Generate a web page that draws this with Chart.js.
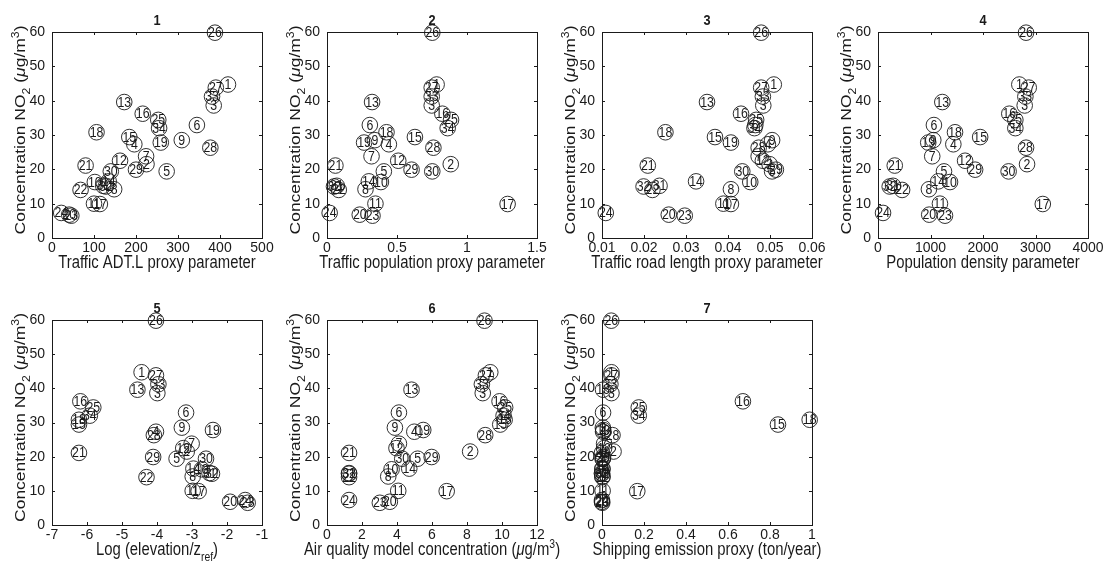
<!DOCTYPE html>
<html lang="en">
<head>
<meta charset="UTF-8">
<title>NO2 concentration vs proxy parameters</title>
<style>
  body { margin: 0; background: #fff; }
  #wrap { position: relative; width: 1107px; height: 568px; overflow: hidden; }
  #wrap canvas { position: absolute; }
</style>
<script src="https://cdn.jsdelivr.net/npm/chart.js"></script>
</head>
<body>
<div id="wrap"></div>
<script>
// station numbers and measured NO2 (ug/m3)
const stations = [1, 2, 3, 4, 5, 6, 7, 8, 9, 10, 11, 12, 13, 14, 15, 16, 17,
  18, 19, 20, 21, 22, 23, 24, 25, 26, 27, 28, 29, 30, 31, 32, 33, 34];
const no2 = [44.7, 21.5, 38.6, 27.3, 19.4, 32.9, 23.8, 14.2, 28.5, 16.3, 10.0, 22.5,
  39.6, 16.5, 29.4, 36.2, 9.9, 30.8, 27.8, 6.8, 21.1, 14.0, 6.5, 7.3, 34.4, 59.8,
  43.8, 26.3, 19.9, 19.4, 15.2, 15.0, 41.2, 32.0];

// proxy parameters, same station order
const adtL = [419, 225, 385, 196, 273, 345, 224, 148, 309, 102, 100, 162, 172, 135,
  184, 216, 114, 106, 259, 41, 80, 68, 46, 22, 253, 388, 390, 377, 200, 140, 122,
  128, 381, 255];
const trafficPop = [0.783, 0.884, 0.748, 0.442, 0.406, 0.306, 0.318, 0.275, 0.342,
  0.385, 0.346, 0.509, 0.322, 0.299, 0.628, 0.824, 1.29, 0.425, 0.265, 0.234, 0.06,
  0.084, 0.325, 0.019, 0.886, 0.752, 0.748, 0.76, 0.604, 0.752, 0.07, 0.05, 0.748, 0.862];
const roadLength = [0.0509, 0.0499, 0.0484, 0.0495, 0.0505, 0.0465, 0.0473, 0.0407,
  0.0505, 0.0453, 0.0389, 0.0483, 0.035, 0.0324, 0.0369, 0.0431, 0.0407, 0.0251,
  0.0407, 0.0259, 0.0209, 0.022, 0.0297, 0.0109, 0.0467, 0.0479, 0.0479, 0.0473,
  0.0514, 0.0434, 0.0237, 0.0199, 0.0483, 0.0463];
const popDensity = [2692, 2839, 2794, 1435, 1257, 1065, 1033, 970, 1053, 1372, 1180,
  1659, 1225, 1148, 1946, 2501, 3139, 1467, 957, 976, 319, 459, 1276, 96, 2616, 2820,
  2871, 2820, 1850, 2488, 287, 223, 2807, 2616];
const logElevation = [-4.44, -3.15, -3.99, -4.03, -3.44, -3.17, -3.01, -2.98, -3.29,
  -2.72, -2.98, -3.25, -4.56, -2.96, -6.23, -6.19, -2.81, -6.23, -2.4, -1.91, -6.23,
  -4.3, -1.41, -1.48, -5.82, -4.03, -4.03, -4.09, -4.11, -2.6, -2.5, -2.43, -3.96, -5.92];
const aqModel = [9.33, 8.18, 8.9, 4.99, 5.18, 4.11, 4.11, 3.5, 3.88, 3.69, 4.07, 3.97,
  4.83, 4.7, 9.9, 9.86, 6.84, 10.15, 5.5, 3.59, 1.26, 1.26, 3.02, 1.26, 10.18, 9.0,
  9.08, 9.04, 5.98, 4.3, 1.26, 1.26, 8.85, 10.09];
const shipping = [0.045, 0.055, 0.045, 0.005, 0.003, 0.005, 0.01, 0.002, 0.004, 0.002,
  0.003, 0.01, 0.005, 0.002, 0.838, 0.671, 0.168, 0.989, 0.006, 0.0, 0.0, 0.002, 0.001,
  0.0, 0.175, 0.044, 0.045, 0.05, 0.005, 0.004, 0.0, 0.0, 0.04, 0.175];

// axis tick values
const yTicks = [0, 10, 20, 30, 40, 50, 60];
const xTicks = [
  [0, 100, 200, 300, 400, 500],
  [0, 0.5, 1, 1.5],
  [0.01, 0.02, 0.03, 0.04, 0.05, 0.06],
  [0, 1000, 2000, 3000, 4000],
  [-7, -6, -5, -4, -3, -2, -1],
  [0, 2, 4, 6, 8, 10, 12],
  [0, 0.2, 0.4, 0.6, 0.8, 1]
];
const xValues = [adtL, trafficPop, roadLength, popDensity, logElevation, aqModel, shipping];
const titles = ['1', '2', '3', '4', '5', '6', '7'];
const xLabels = [
  [{t: 'Traffic ADT.L proxy parameter'}],
  [{t: 'Traffic population proxy parameter'}],
  [{t: 'Traffic road length proxy parameter'}],
  [{t: 'Population density parameter'}],
  [{t: 'Log (elevation/z'}, {t: 'ref', sub: true}, {t: ')'}],
  [{t: 'Air quality model concentration ('}, {t: 'μ', it: true}, {t: 'g/m'}, {t: '3', sup: true}, {t: ')'}],
  [{t: 'Shipping emission proxy (ton/year)'}]
];
const yLabel = [{t: 'Concentration NO'}, {t: '2', sub: true}, {t: ' ('}, {t: 'μ', it: true},
  {t: 'g/m'}, {t: '3', sup: true}, {t: ')'}];

const INK = '#1a1a1a';
const FONT = '"Liberation Sans", Arial, sans-serif';
const NARROW = '"Liberation Sans Narrow", "Arial Narrow", "Liberation Sans", sans-serif';
const SX = 0.85;     // text in the picture is squeezed sideways
const LABEL_SIZE = 17.5;

function segFont(s, size) {
  const sz = (s.sub || s.sup) ? size * 0.7 : size;
  return (s.it ? 'italic ' : '') + sz + 'px ' + FONT;
}

function drawRich(ctx, segs, size) {
  let w = 0;
  segs.forEach(s => { ctx.font = segFont(s, size); w += ctx.measureText(s.t).width; });
  let x = -w / 2;
  ctx.textAlign = 'left';
  ctx.textBaseline = 'alphabetic';
  segs.forEach(s => {
    ctx.font = segFont(s, size);
    const dy = s.sub ? size * 0.32 : s.sup ? -size * 0.42 : 0;
    ctx.fillText(s.t, x, dy);
    x += ctx.measureText(s.t).width;
  });
}

const decor = {
  id: 'decor',
  beforeDatasetsDraw(chart) {
    const {ctx, chartArea: a, scales} = chart;
    ctx.save();
    ctx.strokeStyle = INK;
    ctx.lineWidth = 1;
    ctx.strokeRect(a.left + 0.5, a.top + 0.5, a.right - a.left, a.bottom - a.top);
    ctx.beginPath();
    scales.x.ticks.forEach(t => {
      const px = Math.round(scales.x.getPixelForValue(t.value)) + 0.5;
      ctx.moveTo(px, a.bottom); ctx.lineTo(px, a.bottom - 3);
      ctx.moveTo(px, a.top); ctx.lineTo(px, a.top + 3);
    });
    scales.y.ticks.forEach(t => {
      const py = Math.round(scales.y.getPixelForValue(t.value)) + 0.5;
      ctx.moveTo(a.left, py); ctx.lineTo(a.left + 3, py);
      ctx.moveTo(a.right, py); ctx.lineTo(a.right - 3, py);
    });
    ctx.stroke();
    ctx.restore();
  },
  afterDatasetsDraw(chart) {
    const {ctx} = chart;
    const meta = chart.getDatasetMeta(0);
    ctx.save();
    ctx.fillStyle = INK;
    ctx.font = '14.5px ' + FONT;
    ctx.textAlign = 'center';
    ctx.textBaseline = 'middle';
    meta.data.forEach((el, i) => {
      ctx.save();
      ctx.translate(el.x, el.y + 0.5);
      ctx.scale(SX, 1);
      ctx.fillText(String(stations[i]), 0, 0);
      ctx.restore();
    });
    ctx.restore();
  },
  afterDraw(chart, args, opts) {
    const {ctx, chartArea: a} = chart;
    const cx = (a.left + a.right) / 2;
    ctx.save();
    ctx.fillStyle = INK;
    // panel title
    ctx.save();
    ctx.translate(cx, a.top - 7);
    ctx.scale(SX, 1);
    ctx.font = 'bold 15px ' + FONT;
    ctx.textAlign = 'center';
    ctx.fillText(opts.title, 0, 0);
    ctx.restore();
    // x label
    ctx.save();
    ctx.translate(cx, a.bottom + 30);
    ctx.scale(SX, 1);
    drawRich(ctx, opts.xLabel, LABEL_SIZE);
    ctx.restore();
    // y label
    ctx.save();
    ctx.translate(a.left - 27, (a.top + a.bottom) / 2 - 5);
    ctx.rotate(-Math.PI / 2);
    ctx.scale(1, SX);
    drawRich(ctx, yLabel, LABEL_SIZE);
    ctx.restore();
    ctx.restore();
  }
};

const colLeft = [52, 327, 602, 878];
const rowTop = [32, 320];
const rowHeight = [206, 205];
const PLOT_W = 210;
const PAD_R = 40;

const fmt = v => String(+Number(v).toFixed(3));
const tickFont = {family: NARROW, size: 14};

xValues.forEach((xs, k) => {
  const row = k < 4 ? 0 : 1;
  const col = k < 4 ? k : k - 4;
  const cv = document.createElement('canvas');
  cv.width = 52 + PLOT_W + PAD_R;
  cv.height = 32 + rowHeight[row] + 42;
  cv.style.left = (colLeft[col] - 52) + 'px';
  cv.style.top = (rowTop[row] - 32) + 'px';
  document.getElementById('wrap').appendChild(cv);

  const ticks = xTicks[k];
  new Chart(cv, {
    type: 'scatter',
    data: {
      datasets: [{
        data: xs.map((x, i) => ({x: x, y: no2[i]})),
        pointRadius: 7.8,
        pointBorderWidth: 0.9,
        pointBorderColor: INK,
        pointBackgroundColor: 'rgba(0,0,0,0)',
        clip: false
      }]
    },
    options: {
      responsive: false,
      animation: false,
      events: [],
      layout: {padding: {top: 32, right: PAD_R, left: 0, bottom: 0}},
      plugins: {
        legend: {display: false},
        tooltip: {enabled: false},
        decor: {title: titles[k], xLabel: xLabels[k]}
      },
      scales: {
        x: {
          type: 'linear',
          min: ticks[0],
          max: ticks[ticks.length - 1],
          afterFit: s => { s.height = 42; },
          afterBuildTicks: s => { s.ticks = ticks.map(v => ({value: v})); },
          grid: {display: false, drawTicks: false},
          border: {display: false},
          ticks: {autoSkip: false, maxRotation: 0, padding: 2, font: tickFont, color: INK, callback: fmt}
        },
        y: {
          min: 0,
          max: 60,
          afterFit: s => { s.width = 52; },
          afterBuildTicks: s => { s.ticks = yTicks.map(v => ({value: v})); },
          grid: {display: false, drawTicks: false},
          border: {display: false},
          ticks: {padding: 7, font: tickFont, color: INK, callback: fmt}
        }
      }
    },
    plugins: [decor]
  });
});
</script>
</body>
</html>
